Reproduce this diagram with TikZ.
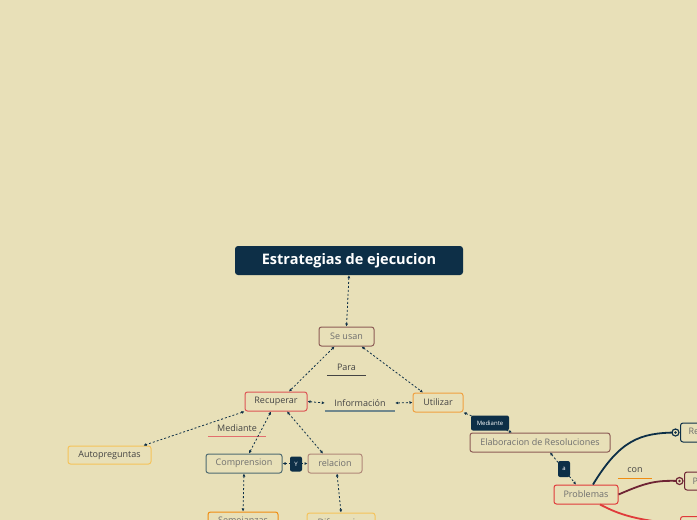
\documentclass[tikz,border=0pt]{standalone}
\usepackage{fontspec}
\setmainfont{Open Sans}
\usetikzlibrary{arrows.meta,calc}

\definecolor{bgcol}{HTML}{E8E0B8}
\definecolor{navy}{HTML}{0D2F47}
\definecolor{brownb}{HTML}{8C5B55}
\definecolor{redb}{HTML}{DD5555}
\definecolor{redp}{HTML}{E03A3A}
\definecolor{orangeb}{HTML}{F0A040}
\definecolor{orangedk}{HTML}{F08C10}
\definecolor{yellowb}{HTML}{F5C35A}
\definecolor{slateb}{HTML}{4E6A70}
\definecolor{pinkb}{HTML}{B08878}
\definecolor{maroon}{HTML}{6E2434}
\definecolor{txtdark}{HTML}{444444}
\definecolor{txtgray}{HTML}{6E6E6E}

\tikzset{
  box/.style={draw, rounded corners=2.5pt, line width=1pt, fill=bgcol,
    minimum height=19pt, inner sep=0pt, text=txtdark,
    font=\fontsize{9}{10}\selectfont},
  tag/.style={fill=navy, rounded corners=2pt, text=white, inner sep=0pt,
    minimum width=12pt, minimum height=15pt, font=\fontsize{6}{7}\selectfont},
  word/.style={inner sep=0pt, minimum height=16pt, text=txtdark,
    font=\fontsize{9}{10}\selectfont},
  link/.style={navy, line width=0.8pt, dash pattern=on 2pt off 2pt,
    {Latex[length=3pt,width=3pt]}-{Latex[length=3pt,width=3pt]}},
  curve/.style={line width=1.8pt}
}

\begin{document}
\begin{tikzpicture}[x=1pt,y=-1pt]
	\useasboundingbox[fill=bgcol] (0,0) rectangle (697,520);
	\clip (0,0) rectangle (697,520);

	% central topic
	\node[fill=navy, rounded corners=3pt, text=white, minimum width=228pt, minimum height=29pt,
	  font=\fontsize{14.5}{16}\selectfont\bfseries] (title) at (349,260.5) {Estrategias de ejecucion};

	\node[box, draw=brownb, text=txtgray, minimum width=55pt] (seusan) at (346.5,336.5) {Se usan};
	\node[word, minimum width=39pt] (para) at (346.5,367) {Para};
	\draw[txtdark, line width=0.7pt] (para.south west) -- (para.south east);

	% left branch
	\node[box, draw=redb, minimum width=62pt] (recup) at (276,401.5) {Recuperar};
	\node[word, minimum width=70pt] (info) at (360,403) {Información};
	\draw[slateb!80, line width=1.6pt] (info.south west) -- (info.south east);
	\node[box, draw=orangeb, minimum width=50pt] (util) at (438,402.5) {Utilizar};

	\node[word, minimum width=58pt] (med) at (237,428.5) {Mediante};
	\draw[redb!85, line width=1.4pt] (med.south west) -- (med.south east);

	\node[box, draw=yellowb, minimum width=83pt, minimum height=18pt] (auto) at (109.5,455) {Autopreguntas};
	\node[box, draw=slateb, text=txtgray, minimum width=76pt] (compr) at (244,463.5) {Comprension};
	\node[box, draw=pinkb, text=txtgray, minimum width=54pt] (rel) at (335,463.5) {relacion};
	\node[box, draw=orangedk, text=txtgray, minimum width=70pt] (semej) at (243,521.5) {Semejanzas};
	\node[box, draw=yellowb, text=txtgray, minimum width=68pt] (difer) at (341,522.5) {Diferencias};

	% right branch
	\node[box, draw=brownb, text=txtgray, minimum width=140pt] (elab) at (540,442.5) {Elaboracion de Resoluciones};
	\node[box, draw=redp, text=txtgray, minimum width=64pt] (probl) at (586,494.5) {Problemas};
	\node[box, draw=navy, anchor=west, minimum width=40pt, inner xsep=8pt, text=txtgray] (repr) at (680,432.5) {Representacion};
	\node[box, draw=maroon, anchor=west, minimum width=40pt, minimum height=18pt, inner xsep=8pt, text=txtgray] (plan) at (684,481) {Planteamiento};
	\node[box, draw=redp, anchor=west, minimum width=40pt] (resol) at (680,526) {};
	\node[word, minimum width=34pt] (con) at (635,470) {con};
	\draw[orangedk, line width=1pt] (con.south west) -- (con.south east);

	% dashed links
	\draw[link] (title.south) -- (seusan.north);
	\draw[link] ([xshift=-12pt]seusan.south) -- ([xshift=13pt]recup.north);
	\draw[link] ([xshift=15pt]seusan.south) -- ([xshift=-15pt]util.north);
	\draw[link] (recup.east) -- (info.west);
	\draw[link] (info.east) -- (util.west);
	\draw[link] (recup.south west) -- ([xshift=-8pt]auto.north east);
	\draw[link] ([xshift=-5pt]recup.south) -- ([xshift=5pt]compr.north);
	\draw[link] ([xshift=11pt]recup.south) -- ([xshift=-12pt]rel.north);
	\draw[link] (compr.east) -- (rel.west);
	\draw[link] (compr.south) -- (semej.north);
	\draw[link] ([xshift=2pt]rel.south) -- (difer.north);
	\draw[link] (util.south east) -- ([xshift=-28pt]elab.north);
	\draw[link] ([xshift=10pt]elab.south) -- ([xshift=-10pt]probl.north);

	% link labels
	\node[tag] (y) at (296,464) {Y};
	\node[tag, minimum width=38pt] (medtag) at (490,423) {Mediante};
	\node[tag, minimum height=16pt] (a) at (564,469) {a};

	% solid curves
	\coordinate (reprdot) at ([xshift=-4.5pt]repr.west);
	\coordinate (plandot) at ([xshift=-4.5pt]plan.west);
	\draw[curve, navy] ([xshift=7pt]probl.north) .. controls (620,440) and (640,433) .. (reprdot);
	\draw[curve, maroon] (probl.east) .. controls (645,483) and (655,480) .. (plandot);
	\draw[curve, redp] ([xshift=14pt]probl.south) .. controls (615,512) and (630,520) .. ([yshift=2pt]resol.west);
	\draw[navy, line width=1.2pt, fill=bgcol] (reprdot) circle (3.5pt);
	\fill[navy] (reprdot) circle (1.3pt);
	\draw[maroon, line width=1.2pt, fill=bgcol] (plandot) circle (3.5pt);
	\fill[maroon] (plandot) circle (1.3pt);
\end{tikzpicture}
\end{document}
